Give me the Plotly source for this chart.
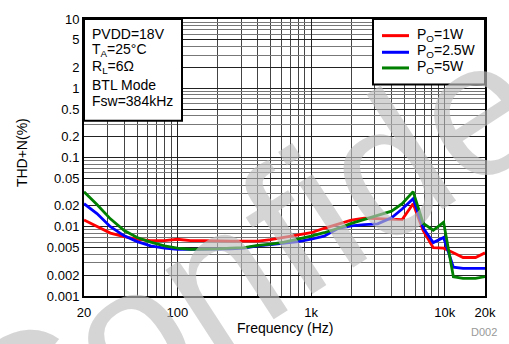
import plotly.graph_objects as go
import numpy as np

freq = [20, 25, 31.5, 40, 50, 63, 80, 100, 125, 160, 200, 250, 315, 400, 500, 630, 800,
        1000, 1250, 1600, 2000, 2500, 3150, 4000, 4800, 5800, 6900, 8200, 9800, 11600,
        13700, 17000, 20000]

thd_1w = [0.0125, 0.0102, 0.0081, 0.0072, 0.0066, 0.0063, 0.0063, 0.0066, 0.0063, 0.0063,
          0.0062, 0.0062, 0.0062, 0.0062, 0.0065, 0.0070, 0.0075, 0.0082, 0.0095, 0.0110,
          0.0125, 0.0133, 0.0130, 0.0127, 0.0127, 0.0215, 0.0088, 0.0050, 0.0049, 0.0042,
          0.0036, 0.0036, 0.0042]

thd_2p5w = [0.0215, 0.0155, 0.0100, 0.0074, 0.0061, 0.0053, 0.0049, 0.0047, 0.0047, 0.0047,
            0.0048, 0.0048, 0.0049, 0.0053, 0.0055, 0.0058, 0.0061, 0.0066, 0.0073, 0.0095,
            0.0103, 0.0107, 0.0110, 0.0135, 0.0180, 0.0254, 0.0096, 0.0059, 0.0070, 0.0026,
            0.0025, 0.0025, 0.0025]

thd_5w = [0.0320, 0.0210, 0.0130, 0.0088, 0.0070, 0.0060, 0.0053, 0.0049, 0.0047, 0.0047,
          0.0048, 0.0049, 0.0050, 0.0054, 0.0056, 0.0060, 0.0066, 0.0073, 0.0082, 0.0095,
          0.0112, 0.0128, 0.0146, 0.0168, 0.0215, 0.0322, 0.0112, 0.0089, 0.0116, 0.0019,
          0.0018, 0.0018, 0.0019]

series_names = ["P<sub>O</sub>=1W", "P<sub>O</sub>=2.5W", "P<sub>O</sub>=5W"]
series_colors = ["#ff0000", "#0000ff", "#008000"]

x_major = [20, 100, 1000, 10000, 20000]
x_major_text = ["20", "100", "1k", "10k", "20k"]
x_minor = [30, 40, 50, 60, 70, 80, 90, 200, 300, 400, 500, 600, 700, 800, 900,
           2000, 3000, 4000, 5000, 6000, 7000, 8000, 9000]

y_major = [0.001, 0.002, 0.005, 0.01, 0.02, 0.05, 0.1, 0.2, 0.5, 1, 2, 5, 10]
y_major_text = ["0.001", "0.002", "0.005", "0.01", "0.02", "0.05", "0.1", "0.2", "0.5",
                "1", "2", "5", "10"]
y_minor = [m * d for d in [0.001, 0.01, 0.1, 1] for m in [3, 4, 6, 7, 8, 9]]

cond_lines = ["PVDD=18V", "T<sub>A</sub>=25°C", "R<sub>L</sub>=6Ω", "BTL Mode", "Fsw=384kHz"]

FONT = "Liberation Sans, Arial, sans-serif"

fig = go.Figure()
for vals, name, col in zip([thd_1w, thd_2p5w, thd_5w], series_names, series_colors):
    fig.add_trace(go.Scatter(x=freq, y=vals, mode="lines", name=name,
                             line=dict(color=col, width=2.8), showlegend=False))

W, H = 509, 344
ml, mr, mt, mb = 84, 24, 13, 48
pw, ph = W - ml - mr, H - mt - mb

def px(x):
    return (x - ml) / pw

def py(y):
    return (H - mb - y) / ph

fig.update_layout(
    width=W, height=H,
    margin=dict(l=ml, r=mr, t=mt, b=mb),
    paper_bgcolor="white", plot_bgcolor="white",
    font=dict(family=FONT, size=13, color="black"),
    showlegend=False,
)

fig.update_xaxes(
    type="log", range=[np.log10(20), np.log10(20000)],
    tickmode="array", tickvals=x_major, ticktext=x_major_text,
    showgrid=True, gridcolor="#222", gridwidth=1,
    minor=dict(tickmode="array", tickvals=x_minor, showgrid=True, gridcolor="#444", gridwidth=1, ticks=""),
    showline=True, linecolor="black", linewidth=2, mirror=True,
    ticks="", zeroline=False, tickfont=dict(size=13), ticklabelstandoff=3,
)
fig.update_yaxes(
    type="log", range=[-3, 1],
    tickmode="array", tickvals=y_major, ticktext=y_major_text,
    showgrid=True, gridcolor="#222", gridwidth=1,
    minor=dict(tickmode="array", tickvals=y_minor, showgrid=True, gridcolor="#777", gridwidth=1, ticks=""),
    showline=True, linecolor="black", linewidth=2, mirror=True,
    ticks="", zeroline=False, tickfont=dict(size=13),
)

# condition box
fig.add_shape(type="rect", xref="paper", yref="paper",
              x0=0, x1=px(182), y0=py(117), y1=1,
              line=dict(color="black", width=2), fillcolor="white", layer="above")
cond_y = [28, 45, 62, 80, 97]
for txt, yy in zip(cond_lines, cond_y):
    fig.add_annotation(text=txt, xref="paper", yref="paper", x=px(90), y=py(yy),
                       xanchor="left", yanchor="middle", showarrow=False,
                       font=dict(family=FONT, size=14, color="black"))

# legend box (drawn manually to match the compact spacing)
fig.add_shape(type="rect", xref="paper", yref="paper",
              x0=px(373), x1=1, y0=py(80), y1=1,
              line=dict(color="black", width=2), fillcolor="white", layer="above")
leg_y = [30, 47, 63]
for name, col, yy in zip(series_names, series_colors, leg_y):
    fig.add_shape(type="line", xref="paper", yref="paper",
                  x0=px(382), x1=px(409), y0=py(yy), y1=py(yy),
                  line=dict(color=col, width=3), layer="above")
    fig.add_annotation(text=name, xref="paper", yref="paper", x=px(415), y=py(yy - 1),
                       xanchor="left", yanchor="middle", showarrow=False,
                       font=dict(family=FONT, size=14, color="black"))

# axis titles
fig.add_annotation(text="Frequency (Hz)", xref="paper", yref="paper", x=px(285), y=py(329),
                   xanchor="center", yanchor="middle", showarrow=False,
                   font=dict(family=FONT, size=14, color="black"))
fig.add_annotation(text="THD+N(%)", xref="paper", yref="paper", x=px(22), y=py(150),
                   xanchor="center", yanchor="middle", showarrow=False, textangle=-90,
                   font=dict(family=FONT, size=14, color="black"))
fig.add_annotation(text="D002", xref="paper", yref="paper", x=px(499), y=py(333),
                   xanchor="right", yanchor="middle", showarrow=False,
                   font=dict(family=FONT, size=11, color="#999999"))

# watermark
fig.add_annotation(text="Confidential", xref="paper", yref="paper", x=px(390), y=py(162),
                   xanchor="center", yanchor="middle", showarrow=False, textangle=-33,
                   font=dict(family=FONT, size=190, color="rgba(190,190,190,0.65)"))

fig.write_html("out.html")
